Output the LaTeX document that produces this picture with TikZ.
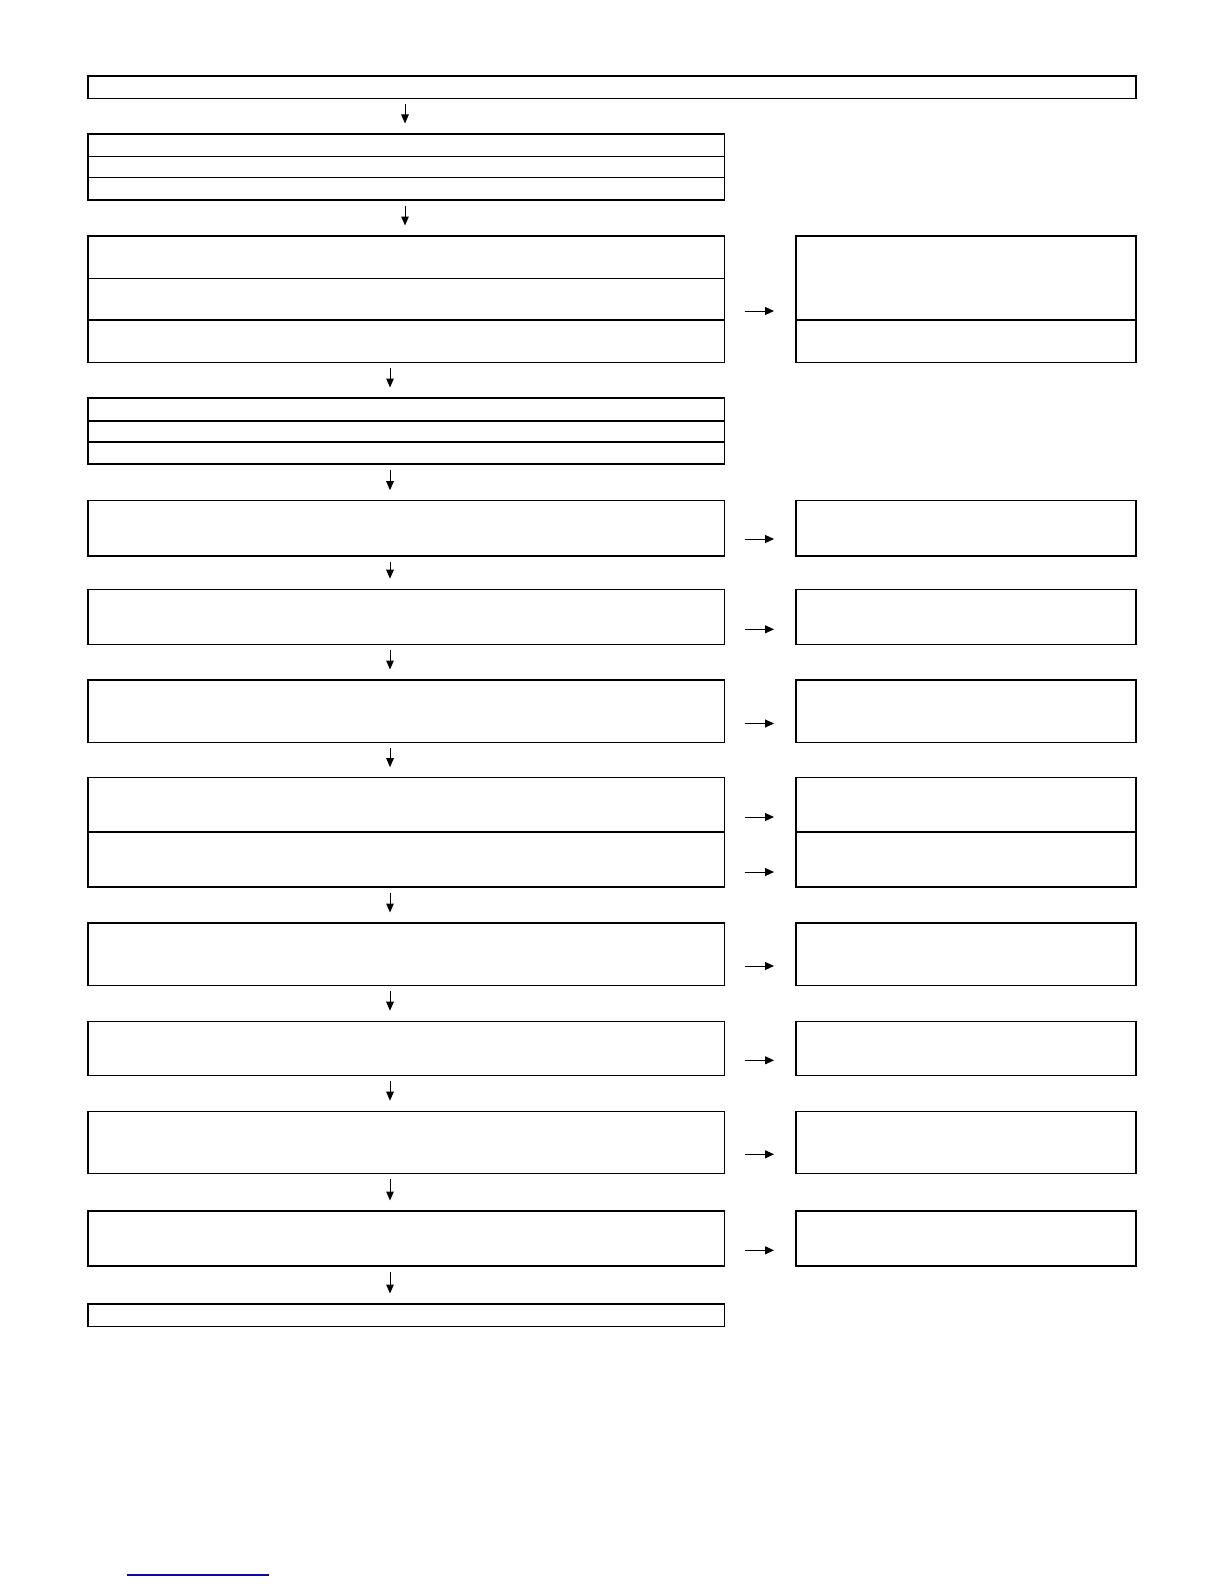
\documentclass[tikz,border=0pt]{standalone}
\usetikzlibrary{arrows.meta}
\definecolor{linkblue}{RGB}{10,10,160}
\begin{document}
\begin{tikzpicture}[x=1pt,y=-1pt,
  box/.style={draw, line width=1.3pt, inner sep=0pt, outer sep=0pt, anchor=north west},
  lbox/.style={box, minimum width=636.7pt},
  rbox/.style={box, minimum width=340pt},
  vline/.style={line width=1pt, -{Triangle[length=9pt,width=7.5pt]}, shorten <=5.5pt, shorten >=10.5pt},
  hline/.style={line width=1pt, -{Triangle[length=9pt,width=8pt]}, shorten <=20.3pt, shorten >=22pt}]
\useasboundingbox (0,0) rectangle (1224,1584);
% top
\node[box, minimum width=1048pt, minimum height=22.3pt] (b1) at (88,76) {};
% group 2
\node[lbox, minimum height=22.3pt] (b2a) at (88,134) {};
\node[lbox, minimum height=21pt] (b2b) at (88,156.3) {};
\node[lbox, minimum height=22.7pt] (b2c) at (88,177.3) {};
% group 3
\node[lbox, minimum height=42.3pt] (b3a) at (88,236) {};
\node[lbox, minimum height=41.7pt] (b3b) at (88,278.3) {};
\node[lbox, minimum height=42.3pt] (b3c) at (88,320) {};
\node[rbox, minimum height=84pt] (r3a) at (796,236) {};
\node[rbox, minimum height=42.3pt] (r3b) at (796,320) {};
% group 4
\node[lbox, minimum height=23pt] (b4a) at (88,398) {};
\node[lbox, minimum height=21pt] (b4b) at (88,421) {};
\node[lbox, minimum height=22pt] (b4c) at (88,442) {};
% boxes 5-12
\node[lbox, minimum height=55.3pt] (b5) at (88,500.7) {};
\node[rbox, minimum height=55.3pt] (r5) at (796,500.7) {};
\node[lbox, minimum height=55.3pt] (b6) at (88,589.2) {};
\node[rbox, minimum height=55.3pt] (r6) at (796,589.2) {};
\node[lbox, minimum height=62.8pt] (b7) at (88,680) {};
\node[rbox, minimum height=62.8pt] (r7) at (796,680) {};
\node[lbox, minimum height=54.3pt] (b8a) at (88,777.7) {};
\node[lbox, minimum height=55pt] (b8b) at (88,832) {};
\node[rbox, minimum height=54.3pt] (r8a) at (796,777.7) {};
\node[rbox, minimum height=55pt] (r8b) at (796,832) {};
\node[lbox, minimum height=62.7pt] (b9) at (88,923) {};
\node[rbox, minimum height=62.7pt] (r9) at (796,923) {};
\node[lbox, minimum height=54.2pt] (b10) at (88,1021.2) {};
\node[rbox, minimum height=54.2pt] (r10) at (796,1021.2) {};
\node[lbox, minimum height=62.2pt] (b11) at (88,1111.2) {};
\node[rbox, minimum height=62.2pt] (r11) at (796,1111.2) {};
\node[lbox, minimum height=55pt] (b12) at (88,1211) {};
\node[rbox, minimum height=55pt] (r12) at (796,1211) {};
\node[lbox, minimum height=22.7pt] (b13) at (88,1304) {};
% arrow columns
\coordinate (axa) at (405,0);
\coordinate (axb) at (390,0);
% vertical arrows
\draw[vline] (b1.south -| axa) -- (b2a.north -| axa);
\draw[vline] (b2c.south -| axa) -- (b3a.north -| axa);
\draw[vline] (b3c.south -| axb) -- (b4a.north -| axb);
\draw[vline] (b4c.south -| axb) -- (b5.north -| axb);
\draw[vline] (b5.south -| axb) -- (b6.north -| axb);
\draw[vline] (b6.south -| axb) -- (b7.north -| axb);
\draw[vline] (b7.south -| axb) -- (b8a.north -| axb);
\draw[vline] (b8b.south -| axb) -- (b9.north -| axb);
\draw[vline] (b9.south -| axb) -- (b10.north -| axb);
\draw[vline] (b10.south -| axb) -- (b11.north -| axb);
\draw[vline] (b11.south -| axb) -- (b12.north -| axb);
\draw[vline] (b12.south -| axb) -- (b13.north -| axb);
% horizontal arrows
\coordinate (h3) at (0,311);
\coordinate (h5) at (0,539);
\coordinate (h6) at (0,629.3);
\coordinate (h7) at (0,723.5);
\coordinate (h8a) at (0,817);
\coordinate (h8b) at (0,872);
\coordinate (h9) at (0,966);
\coordinate (h10) at (0,1060.3);
\coordinate (h11) at (0,1154.3);
\coordinate (h12) at (0,1250.3);
\draw[hline] (b3b.east |- h3) -- (r3a.west |- h3);
\draw[hline] (b5.east |- h5) -- (r5.west |- h5);
\draw[hline] (b6.east |- h6) -- (r6.west |- h6);
\draw[hline] (b7.east |- h7) -- (r7.west |- h7);
\draw[hline] (b8a.east |- h8a) -- (r8a.west |- h8a);
\draw[hline] (b8b.east |- h8b) -- (r8b.west |- h8b);
\draw[hline] (b9.east |- h9) -- (r9.west |- h9);
\draw[hline] (b10.east |- h10) -- (r10.west |- h10);
\draw[hline] (b11.east |- h11) -- (r11.west |- h11);
\draw[hline] (b12.east |- h12) -- (r12.west |- h12);
% link underline
\draw[linkblue, line width=1.4pt] (127,1575) -- (269,1575);
\end{tikzpicture}
\end{document}
